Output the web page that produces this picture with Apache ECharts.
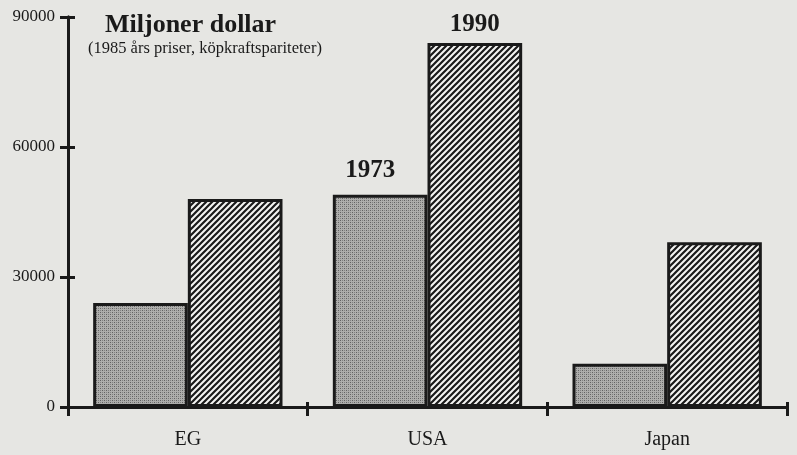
<!DOCTYPE html>
<html>
<head>
<meta charset="utf-8">
<script src="https://cdn.jsdelivr.net/npm/echarts@6/dist/echarts.min.js"></script>
<style>
html,body{margin:0;padding:0;background:#e6e6e3;}
#chart{width:797px;height:455px;}
</style>
</head>
<body>
<div id="chart"></div>
<script>
// data
var categories = ['EG', 'USA', 'Japan'];
var values1973 = [24000, 49000, 10000];
var values1990 = [48000, 84000, 38000];
var yTicks = [0, 30000, 60000, 90000];

var serif = '"Liberation Serif", "DejaVu Serif", serif';

// fyllnadsmonster
function dotPattern(){
    var c = document.createElement('canvas');
    c.width = 4; c.height = 4;
    var ctx = c.getContext('2d');
    ctx.fillStyle = '#aeaeac';
    ctx.fillRect(0, 0, 4, 4);
    ctx.fillStyle = '#626262';
    ctx.fillRect(0, 0, 1, 1);
    ctx.fillRect(2, 2, 1, 1);
    ctx.fillStyle = '#828282';
    ctx.fillRect(2, 0, 1, 1);
    ctx.fillRect(0, 2, 1, 1);
    return c;
}

function hatchPattern(){
    var s = 6;
    var c = document.createElement('canvas');
    c.width = s; c.height = s;
    var ctx = c.getContext('2d');
    ctx.fillStyle = '#f4f4f2';
    ctx.fillRect(0, 0, s, s);
    ctx.strokeStyle = '#1a1a1a';
    ctx.lineWidth = 2.2;
    ctx.beginPath();
    ctx.moveTo(0, s); ctx.lineTo(s, 0);
    ctx.moveTo(-1, 1); ctx.lineTo(1, -1);
    ctx.moveTo(s - 1, s + 1); ctx.lineTo(s + 1, s - 1);
    ctx.stroke();
    return c;
}

function init(){
    var myChart = echarts.init(document.getElementById('chart'));

    var data1973 = values1973.map(function(v, i){
        return {value: v, label: {show: categories[i] === 'USA', formatter: '1973', offset: [-10, 0]}};
    });
    var data1990 = values1990.map(function(v, i){
        return {value: v, label: {show: categories[i] === 'USA', formatter: '1990'}};
    });

    var axisLineStyle = {color: '#1a1a1a', width: 3};
    var tickStyle = {color: '#1a1a1a', width: 3};

    var option = {
        backgroundColor: '#e6e6e3',
        animation: false,
        title: [
            {
                text: 'Miljoner dollar',
                left: 105,
                top: 12,
                padding: 0,
                textStyle: {fontFamily: serif, fontSize: 26, fontWeight: 'bold', color: '#1a1a1a'}
            },
            {
                text: '(1985 års priser, köpkraftspariteter)',
                left: 88,
                top: 40,
                padding: 0,
                textStyle: {fontFamily: serif, fontSize: 16.5, fontWeight: 'normal', color: '#1a1a1a'}
            }
        ],
        grid: {left: 68, right: 10, top: 17, bottom: 48, containLabel: false},
        xAxis: [
            {
                type: 'category',
                data: categories,
                position: 'bottom',
                axisLine: {onZero: false, lineStyle: axisLineStyle},
                axisTick: {show: true, length: 9, lineStyle: tickStyle},
                axisLabel: {fontFamily: serif, fontSize: 20, color: '#1a1a1a', margin: 23}
            },
            {
                type: 'category',
                data: categories,
                position: 'bottom',
                axisLine: {show: true, onZero: false, lineStyle: axisLineStyle},
                axisTick: {show: true, inside: true, length: 5, lineStyle: tickStyle},
                axisLabel: {show: false}
            }
        ],
        yAxis: [
            {
                type: 'value',
                min: yTicks[0],
                max: yTicks[yTicks.length - 1],
                interval: 30000,
                position: 'left',
                splitLine: {show: false},
                axisLine: {show: true, onZero: false, lineStyle: axisLineStyle},
                axisTick: {show: true, length: 8, lineStyle: tickStyle},
                axisLabel: {fontFamily: serif, fontSize: 17, color: '#1a1a1a', margin: 13,
                    formatter: function(v){ return String(v); }}
            },
            {
                type: 'value',
                min: yTicks[0],
                max: yTicks[yTicks.length - 1],
                interval: 30000,
                position: 'left',
                splitLine: {show: false},
                axisLine: {show: true, onZero: false, lineStyle: axisLineStyle},
                axisTick: {show: true, inside: true, length: 7, lineStyle: tickStyle},
                axisLabel: {show: false}
            }
        ],
        series: [
            {
                name: '1973',
                type: 'bar',
                data: data1973,
                barGap: '0%',
                barCategoryGap: '21%',
                itemStyle: {
                    color: {image: dotPattern(), repeat: 'repeat'},
                    borderColor: '#1a1a1a',
                    borderWidth: 3
                },
                label: {position: 'top', distance: 12, fontFamily: serif, fontSize: 25, fontWeight: 'bold', color: '#1a1a1a'}
            },
            {
                name: '1990',
                type: 'bar',
                data: data1990,
                itemStyle: {
                    color: {image: hatchPattern(), repeat: 'repeat'},
                    borderColor: '#1a1a1a',
                    borderWidth: 3
                },
                label: {position: 'top', distance: 6, fontFamily: serif, fontSize: 25, fontWeight: 'bold', color: '#1a1a1a'}
            }
        ]
    };

    myChart.setOption(option);
}

window.onload = init;
</script>
</body>
</html>
